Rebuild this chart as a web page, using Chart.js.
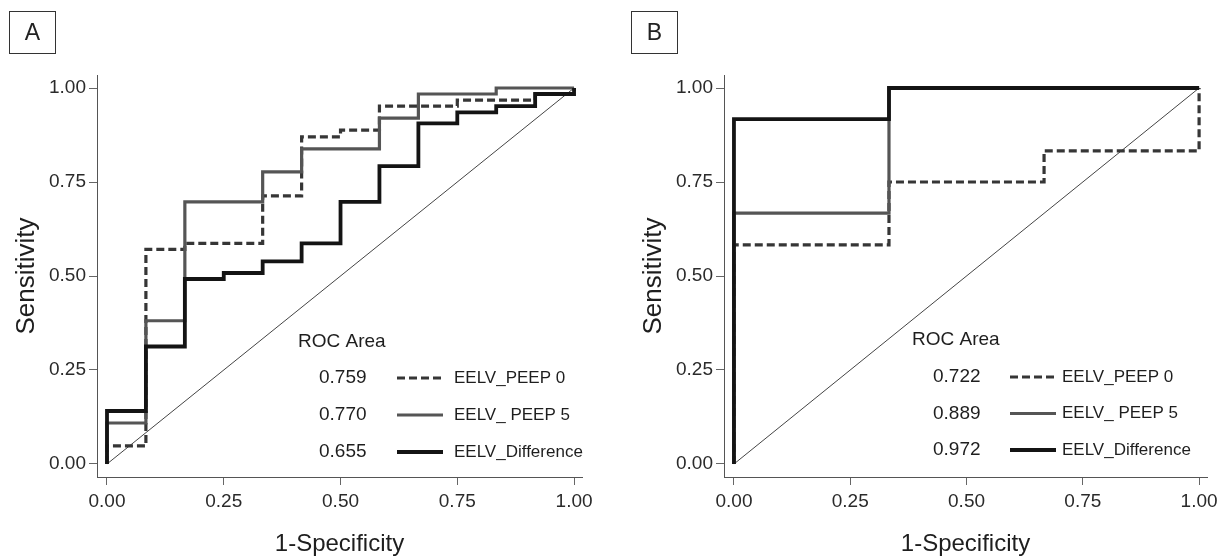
<!DOCTYPE html>
<html><head><meta charset="utf-8">
<script src="https://cdn.jsdelivr.net/npm/chart.js@4.4.1/dist/chart.umd.min.js"></script>
<style>
html,body{margin:0;padding:0;background:#fff;}
#wrap{position:relative;width:1226px;height:560px;overflow:hidden;background:#fff;}
canvas{position:absolute;top:0;}
.tag{position:absolute;border:1px solid #333;font:23px "Liberation Sans",Arial,sans-serif;color:#222;display:flex;align-items:center;justify-content:center;box-sizing:border-box;}
</style></head><body>
<div id="wrap">
<canvas id="cA" width="613" height="560" style="left:0"></canvas>
<canvas id="cB" width="599" height="560" style="left:627px"></canvas>
<div class="tag" style="left:9px;top:11px;width:47px;height:43px">A</div>
<div class="tag" style="left:631px;top:11px;width:47px;height:43px">B</div>
</div>
<script>
// ---- data ----
const tickValues = [0, 0.25, 0.5, 0.75, 1];
const seriesNames = ['EELV_PEEP 0', 'EELV_ PEEP 5', 'EELV_Difference'];
const aucA = ['0.759', '0.770', '0.655'];
const aucB = ['0.722', '0.889', '0.972'];
const xTitle = '1-Specificity';
const yTitle = 'Sensitivity';
const legendTitle = 'ROC Area';

// Panel A (ROC vertices: 1-specificity, sensitivity)
const peep0A_fpr = [0,0,0.0833,0.0833,0.1667,0.1667,0.3333,0.3333,0.4167,0.4167,0.5,0.5,0.5833,0.5833,0.75,0.75,0.9167,0.9167,1,1];
const peep0A_tpr = [0,0.048,0.048,0.571,0.571,0.587,0.587,0.713,0.713,0.870,0.870,0.888,0.888,0.952,0.952,0.968,0.968,0.984,0.984,1];
const peep5A_fpr = [0,0,0.0833,0.0833,0.1667,0.1667,0.3333,0.3333,0.4167,0.4167,0.5833,0.5833,0.6667,0.6667,0.8333,0.8333,1];
const peep5A_tpr = [0,0.109,0.109,0.381,0.381,0.697,0.697,0.777,0.777,0.838,0.838,0.920,0.920,0.984,0.984,1,1];
const diffA_fpr = [0,0,0.0833,0.0833,0.1667,0.1667,0.25,0.25,0.3333,0.3333,0.4167,0.4167,0.5,0.5,0.5833,0.5833,0.6667,0.6667,0.75,0.75,0.8333,0.8333,0.9167,0.9167,1,1];
const diffA_tpr = [0,0.141,0.141,0.3125,0.3125,0.492,0.492,0.508,0.508,0.539,0.539,0.587,0.587,0.697,0.697,0.792,0.792,0.906,0.906,0.935,0.935,0.952,0.952,0.984,0.984,1];

// Panel B
const peep0B_fpr = [0,0,0.3333,0.3333,0.6667,0.6667,1,1];
const peep0B_tpr = [0,0.583,0.583,0.75,0.75,0.833,0.833,1];
const peep5B_fpr = [0,0,0.3333,0.3333,1];
const peep5B_tpr = [0,0.667,0.667,1,1];
const diffB_fpr = [0,0,0.3333,0.3333,1];
const diffB_tpr = [0,0.917,0.917,1,1];

const refLine_fpr = [0,1];
const refLine_tpr = [0,1];

// ---- rendering ----
const FONT = '"Liberation Sans", Arial, Helvetica, sans-serif';
const zip = (xs, ys) => xs.map((x, i) => ({x, y: ys[i]}));

const seriesStyle = [
  {borderColor:'#363636', borderWidth:3.2, borderDash:[8,4], order:2},
  {borderColor:'#555555', borderWidth:3.2, borderDash:[], order:1},
  {borderColor:'#141414', borderWidth:3.8, borderDash:[], order:0}
];

const rocLegend = {
  id: 'rocLegend',
  afterDatasetsDraw(chart, args, o) {
    const ctx = chart.ctx;
    ctx.save();
    ctx.fillStyle = '#1e1e1e';
    ctx.textBaseline = 'middle';
    ctx.textAlign = 'left';
    ctx.font = '19px ' + FONT;
    ctx.fillText(legendTitle, o.x, o.y);
    o.auc.forEach((a, i) => {
      const yy = o.y + o.first + i * o.step;
      ctx.font = '19px ' + FONT;
      ctx.fillStyle = '#1e1e1e';
      ctx.fillText(a, o.x + o.numDx, yy);
      const st = seriesStyle[i];
      ctx.strokeStyle = st.borderColor;
      ctx.lineWidth = st.borderWidth;
      ctx.setLineDash(st.borderDash);
      ctx.beginPath();
      ctx.moveTo(o.x + o.lineDx, yy);
      ctx.lineTo(o.x + o.lineDx + 46, yy);
      ctx.stroke();
      ctx.setLineDash([]);
      ctx.font = '17px ' + FONT;
      ctx.fillText(seriesNames[i], o.x + o.nameDx, yy);
    });
    ctx.restore();
  }
};

function makePanel(id, series, auc, legendOpts, rightPad) {
  const datasets = series.map((s, i) => ({
    data: zip(s[0], s[1]),
    borderColor: seriesStyle[i].borderColor,
    borderWidth: seriesStyle[i].borderWidth,
    borderDash: seriesStyle[i].borderDash,
    order: seriesStyle[i].order,
    pointRadius: 0, fill: false, tension: 0,
    borderCapStyle: 'butt', borderJoinStyle: 'miter'
  }));
  datasets.push({
    data: zip(refLine_fpr, refLine_tpr),
    borderColor: '#444', borderWidth: 1, pointRadius: 0, fill: false, order: 3
  });
  return new Chart(document.getElementById(id), {
    type: 'line',
    data: {datasets},
    plugins: [rocLegend],
    options: {
      responsive: false, animation: false, devicePixelRatio: 1,
      layout: {padding: {left: 0, top: 75, right: rightPad, bottom: 0}},
      plugins: {legend: {display: false}, tooltip: {enabled: false}, rocLegend: Object.assign({auc}, legendOpts)},
      scales: {
        x: {
          type: 'linear', min: -0.0214, max: 1.017,
          afterBuildTicks: s => { s.ticks = tickValues.map(v => ({value: v})); },
          afterFit: s => { s.height = 83; },
          ticks: {callback: v => v.toFixed(2), font: {size: 19, family: FONT}, color: '#2a2a2a', padding: 5, maxRotation: 0, autoSkip: false},
          grid: {drawOnChartArea: false, drawTicks: true, tickLength: 8, color: '#666', lineWidth: 1},
          border: {display: true, color: '#555', width: 1},
          title: {display: true, text: xTitle, font: {size: 24, family: FONT}, color: '#1e1e1e', padding: {top: 0, bottom: 1}}
        },
        y: {
          type: 'linear', min: -0.0346, max: 1.0346,
          afterBuildTicks: s => { s.ticks = tickValues.map(v => ({value: v})); },
          afterFit: s => { s.width = 97; },
          ticks: {callback: v => v.toFixed(2), font: {size: 19, family: FONT}, color: '#2a2a2a', padding: 3, autoSkip: false},
          grid: {drawOnChartArea: false, drawTicks: true, tickLength: 8, color: '#666', lineWidth: 1},
          border: {display: true, color: '#555', width: 1},
          title: {display: true, text: yTitle, font: {size: 26, family: FONT}, color: '#1e1e1e', padding: {top: 11, bottom: 0}}
        }
      }
    }
  });
}

makePanel('cA',
  [[peep0A_fpr, peep0A_tpr], [peep5A_fpr, peep5A_tpr], [diffA_fpr, diffA_tpr]],
  aucA, {x: 298, y: 342, first: 36, step: 37, numDx: 21, lineDx: 99, nameDx: 156}, 31);
makePanel('cB',
  [[peep0B_fpr, peep0B_tpr], [peep5B_fpr, peep5B_tpr], [diffB_fpr, diffB_tpr]],
  aucB, {x: 285, y: 340, first: 37, step: 36.5, numDx: 21, lineDx: 98, nameDx: 150}, 19);
</script>
</body></html>
